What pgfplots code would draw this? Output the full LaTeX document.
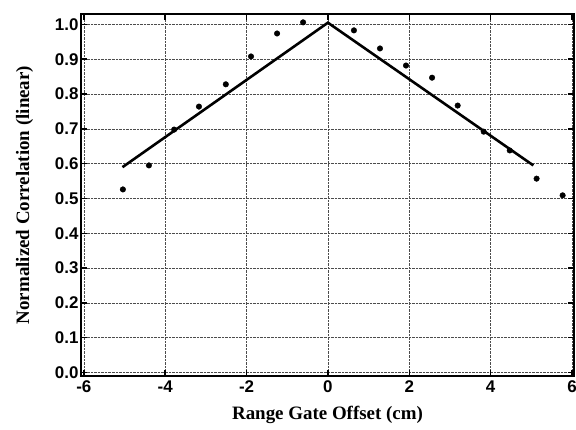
\documentclass[border=0pt]{standalone}
\usepackage{fontspec}
\setmainfont{Liberation Serif}
\newfontfamily\tickfont{Liberation Sans}
\usepackage{pgfplots}
\pgfplotsset{compat=1.18}
\begin{document}
\begin{tikzpicture}[x=1bp,y=1bp]
\path[use as bounding box] (0,0) rectangle (576,429);
\begin{axis}[
  at={(81bp,53bp)}, anchor=south west,
  width=493bp, height=362bp, scale only axis,
  xmin=-6.07, xmax=6.05, ymin=-0.01, ymax=1.03,
  xtick={-6,-4,...,6}, ytick={0,0.1,...,1.0},
  yticklabel style={xshift=1bp},
  y tick label style={/pgf/number format/fixed,/pgf/number format/fixed zerofill,/pgf/number format/precision=1},
  /pgf/number format/assume math mode=true,
  ticklabel style={font=\tickfont\bfseries\fontsize{17}{17}\selectfont},
  xticklabel style={yshift=-1bp},
  grid=major,
  major grid style={black!70, densely dotted, line width=0.6pt},
  axis line style={line width=2pt},
  tick style={black, line width=1.5pt},
  major tick length=6bp,
  tick align=inside,
  xlabel={Range Gate Offset (cm)},
  ylabel={Normalized Correlation (linear)},
  label style={font=\bfseries\fontsize{19}{19}\selectfont},
  xlabel style={yshift=-7bp},
  ylabel style={yshift=15bp},
]
\addplot[only marks, mark=*, mark size=2.8pt, black] coordinates {
(-5.04,0.526) (-4.40,0.595) (-3.78,0.698) (-3.17,0.764) (-2.51,0.828)
(-1.89,0.908) (-1.25,0.974) (-0.61,1.006) (0.64,0.983) (1.28,0.931)
(1.92,0.882) (2.56,0.847) (3.19,0.767) (3.83,0.692) (4.47,0.638)
(5.13,0.557) (5.77,0.509)
};
\addplot[black, line width=2.6pt, mark=none] coordinates {
(-5.05,0.59) (0,1.005) (5.05,0.595)
};
\end{axis}
\end{tikzpicture}
\end{document}
